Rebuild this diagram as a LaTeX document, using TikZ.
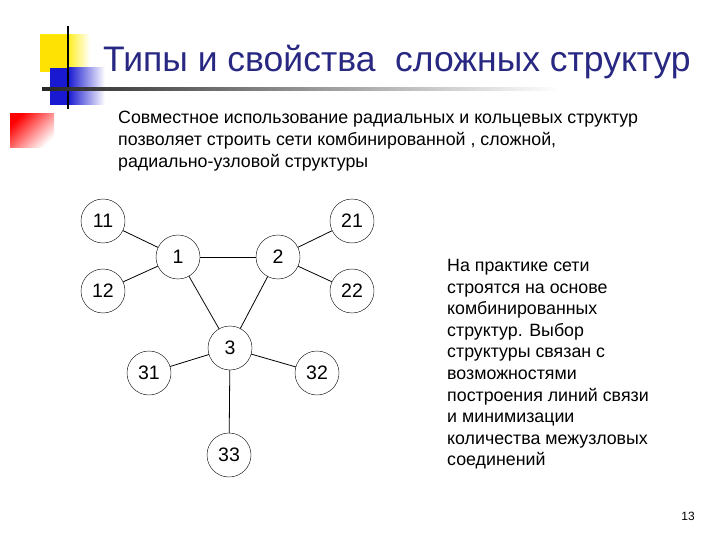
\documentclass[tikz,border=0pt]{standalone}
\usepackage{fontspec}
\setmainfont{Liberation Sans}
\begin{document}
\begin{tikzpicture}[x=1pt,y=-1pt,
  nd/.style={circle,draw,fill=white,minimum size=44pt,inner sep=0pt,font=\fontsize{19.5}{22}\selectfont},
  ln/.style={draw,line width=0.8pt},
  txt/.style={anchor=north west,align=left,inner sep=0pt}]
\useasboundingbox (0,0) rectangle (720,540);
\definecolor{ttl}{RGB}{40,40,130}
% decoration
\shade[left color=yellow!85!orange, right color=white, middle color=yellow!85!orange] (40,35) rectangle (90,72);
\fill[yellow!85!orange] (40,35) rectangle (68,72);
\shade[left color=blue!80!black!90, right color=white] (68,68) rectangle (105,105);
\fill[blue!80!black!90] (50,68) rectangle (68,105);
\shade[top color=red, bottom color=white, shading angle=45] (10,114) rectangle (54,148);
\draw[line width=2pt] (68,26) -- (68,109);
\shade[left color=black!85, right color=white] (42,87.5) rectangle (560,90.5);
\node[anchor=west,inner sep=0pt,text=ttl,font=\fontsize{35.5}{38}\selectfont] (title) at (103,62) {Типы и свойства\ \ сложных структур};
\node[txt,font=\fontsize{17.8}{22}\selectfont] (t1) at (118,111) {Совместное использование радиальных и кольцевых структур\\позволяет строить сети комбинированной , сложной,\\радиально-узловой структуры};
\node[txt,font=\fontsize{17.8}{21.6}\selectfont] (t2) at (447,259) {На практике сети\\строятся на основе\\комбинированных\\структур. Выбор\\структуры связан с\\возможностями\\построения линий связи\\и минимизации\\количества межузловых\\соединений};
\node[anchor=center,font=\fontsize{12}{14}\selectfont] (pg) at (688,516) {13};
% graph
\coordinate (c11) at (103,221); \coordinate (c12) at (103,291);
\coordinate (c1) at (178,257); \coordinate (c2) at (278,257);
\coordinate (c21) at (352,221); \coordinate (c22) at (352,291);
\coordinate (c3) at (230,348); \coordinate (c31) at (149,373);
\coordinate (c32) at (317,373); \coordinate (c33) at (229,455);
\foreach \a/\b in {11/1,12/1,1/2,2/21,2/22,1/3,2/3,3/31,3/32,3/33}
  \draw[ln] (c\a) -- (c\b);
\foreach \n in {11,12,1,2,21,22,3,31,32,33}
  \node[nd] (n\n) at (c\n) {\n};
\end{tikzpicture}
\end{document}
